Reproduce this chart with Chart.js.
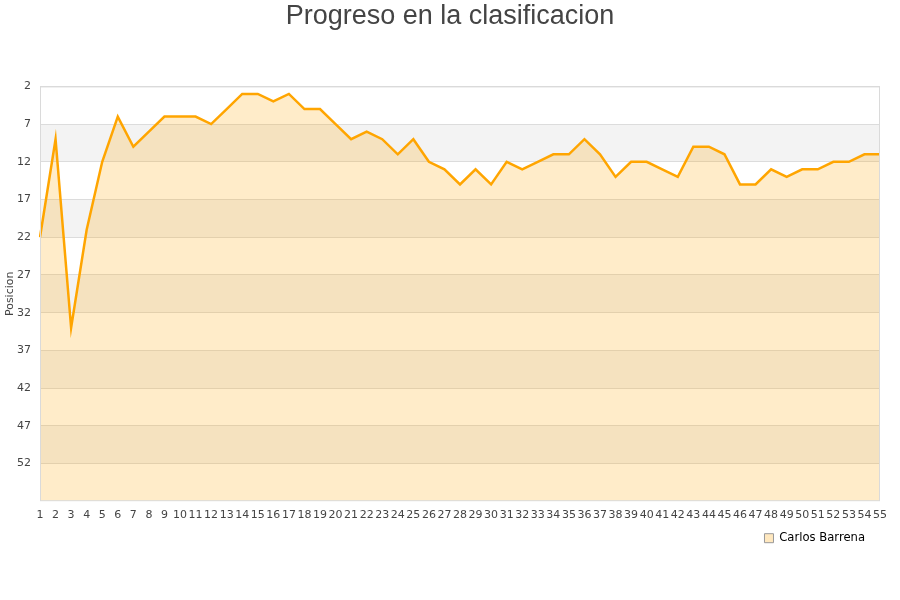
<!DOCTYPE html>
<html>
<head>
<meta charset="utf-8">
<title>Progreso en la clasificacion</title>
<script src="https://cdn.jsdelivr.net/npm/chart.js@4/dist/chart.umd.min.js"></script>
<style>
  html, body { margin: 0; padding: 0; background: #fff; }
  #wrap { width: 900px; height: 600px; }
</style>
</head>
<body>
<div id="wrap"><canvas id="myChart"></canvas></div>
<script>
// jornadas 1..55
var jornadas = [];
for (var j = 1; j <= 55; j++) jornadas.push(String(j));

// posicion de Carlos Barrena en cada jornada
var posiciones = [22, 9, 34, 21, 12, 6, 10, 8, 6, 6,
                  6, 7, 5, 3, 3, 4, 3, 5, 5, 7,
                  9, 8, 9, 11, 9, 12, 13, 15, 13, 15,
                  12, 13, 12, 11, 11, 9, 11, 14, 12, 12,
                  13, 14, 10, 10, 11, 15, 15, 13, 14, 13,
                  13, 12, 12, 11, 11];

var yTicks = [2, 7, 12, 17, 22, 27, 32, 37, 42, 47, 52];
var yMin = 2;
var yMax = 57;
var jugador = 'Carlos Barrena';

var lineColor = '#FFA500';
var fillColor = 'rgba(255, 165, 0, 0.21)';

// grey stripes behind the plot, every other band between ticks
var bandsPlugin = {
    id: 'bands',
    afterLayout: function (chart) {
        // legend sits a bit left of the plot's right edge
        if (chart.legend) {
            chart.legend.left -= 11;
            chart.legend.right -= 11;
        }
    },
    beforeDraw: function (chart) {
        var ctx = chart.ctx;
        var area = chart.chartArea;
        var y = chart.scales.y;
        ctx.save();
        ctx.fillStyle = '#f3f3f3';
        for (var i = 1; i < yTicks.length; i += 2) {
            var top = y.getPixelForValue(yTicks[i]);
            var bottom = y.getPixelForValue(i + 1 < yTicks.length ? yTicks[i + 1] : yMax);
            ctx.fillRect(area.left, top, area.right - area.left, bottom - top);
        }
        ctx.restore();
    },
    afterDatasetsDraw: function (chart) {
        var ctx = chart.ctx;
        var area = chart.chartArea;
        ctx.save();
        ctx.strokeStyle = '#dadada';
        ctx.lineWidth = 1;
        ctx.strokeRect(area.left + 0.5, area.top + 0.5, area.right - area.left - 1, area.bottom - area.top - 1);
        ctx.restore();
    }
};

var ctx = document.getElementById('myChart').getContext('2d');
var myChart = new Chart(ctx, {
    type: 'line',
    data: {
        labels: jornadas,
        datasets: [{
            label: jugador,
            data: posiciones,
            borderColor: lineColor,
            backgroundColor: fillColor,
            borderWidth: 2.5,
            pointRadius: 0,
            tension: 0,
            fill: { value: yMax }
        }]
    },
    options: {
        responsive: true,
        maintainAspectRatio: false,
        animation: false,
        layout: {
            padding: { left: 0, right: 0, top: 0, bottom: 46 }
        },
        plugins: {
            title: {
                display: true,
                text: 'Progreso en la clasificacion',
                color: '#444',
                font: { family: '"Liberation Sans", Arial, sans-serif', size: 27, weight: 'normal' },
                padding: { top: 0, bottom: 54 }
            },
            legend: {
                position: 'bottom',
                align: 'end',
                fullSize: false,
                labels: {
                    color: '#222',
                    font: { family: '"DejaVu Sans", sans-serif', size: 11.6 },
                    boxWidth: 9,
                    boxHeight: 9,
                    padding: 4,
                    generateLabels: function (chart) {
                        return [{
                            text: jugador,
                            fillStyle: 'rgba(255, 165, 0, 0.25)',
                            strokeStyle: '#999',
                            lineWidth: 1,
                            datasetIndex: 0
                        }];
                    }
                }
            },
            tooltip: { enabled: false }
        },
        scales: {
            x: {
                type: 'category',
                offset: false,
                grid: { display: false, drawTicks: false },
                border: { display: false },
                ticks: {
                    autoSkip: false,
                    maxRotation: 0,
                    minRotation: 0,
                    padding: 7,
                    color: '#444',
                    font: { family: '"DejaVu Sans", sans-serif', size: 11 }
                }
            },
            y: {
                reverse: true,
                min: yMin,
                max: yMax,
                afterBuildTicks: function (scale) {
                    scale.ticks = yTicks.map(function (v) { return { value: v }; });
                },
                afterFit: function (scale) {
                    scale.width = 40;
                },
                grid: { color: '#dcdcdc', drawTicks: false },
                border: { display: false },
                ticks: {
                    padding: 9,
                    color: '#444',
                    font: { family: '"DejaVu Sans", sans-serif', size: 11 }
                },
                title: {
                    display: true,
                    text: 'Posicion',
                    color: '#444',
                    font: { family: '"DejaVu Sans", sans-serif', size: 11 },
                    padding: 4
                }
            },
            // empty axis on the right, only keeps a 20px margin beside the plot
            yRight: {
                position: 'right',
                display: true,
                grid: { display: false, drawTicks: false },
                border: { display: false },
                ticks: { display: false },
                afterFit: function (scale) {
                    scale.width = 20;
                }
            }
        }
    },
    plugins: [bandsPlugin]
});
</script>
</body>
</html>
